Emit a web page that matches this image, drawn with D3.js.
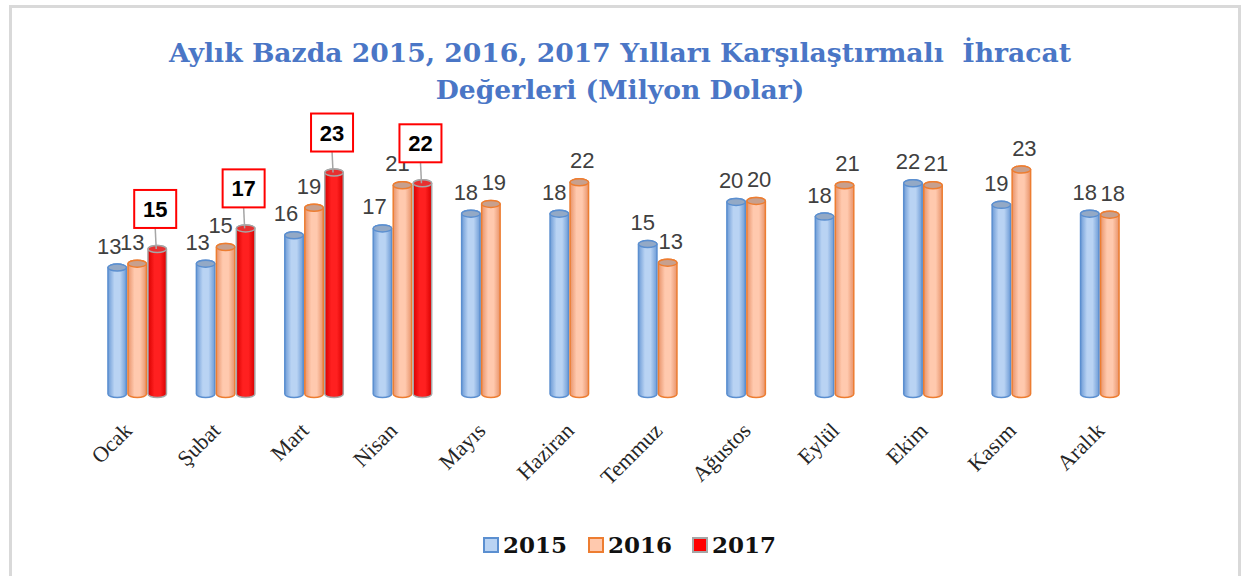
<!DOCTYPE html>
<html>
<head>
<meta charset="utf-8">
<script src="https://cdn.jsdelivr.net/npm/d3@7"></script>
<style>
	body { margin: 0; background: #fff; }
</style>
</head>
<body>
<svg id="chart" width="1246" height="576"></svg>
<script>
const titleLines = ['Aylık Bazda 2015, 2016, 2017 Yılları Karşılaştırmalı  İhracat', 'Değerleri (Milyon Dolar)'];
const months = ['Ocak', 'Şubat', 'Mart', 'Nisan', 'Mayıs', 'Haziran', 'Temmuz', 'Ağustos', 'Eylül', 'Ekim', 'Kasım', 'Aralık'];
const years = ['2015', '2016', '2017'];
const values2015 = [12.9, 13.3, 16.2, 16.9, 18.4, 18.4, 15.3, 19.6, 18.1, 21.5, 19.3, 18.4];
const values2016 = [13.3, 15.0, 19.0, 21.3, 19.4, 21.6, 13.4, 19.7, 21.3, 21.3, 22.9, 18.3];
const values2017 = [14.8, 16.9, 22.6, 21.5, null, null, null, null, null, null, null, null];

class CylinderChart {
	svg = d3.select('#chart');
	styles = {
		'2015': { light: '#b9d3f3', dark: '#6d9bd6', stroke: '#5b8fd0', cap: '#93a9c6' },
		'2016': { light: '#ffc9ae', dark: '#e8936a', stroke: '#ed7d31', cap: '#c7a08e' },
		'2017': { light: '#ff2020', dark: '#d80000', stroke: '#a6a6a6', cap: '#e83030' }
	};

	cylinderPath = (x, w, yTop, yBase, ry) => {
		const rx = w / 2;
		return `M${x},${yTop} V${yBase} A${rx},${ry} 0 0 0 ${x + w},${yBase} V${yTop} A${rx},${ry} 0 0 0 ${x},${yTop} Z`;
	};

	draw = () => {
		const svg = this.svg;
		const series = { '2015': values2015, '2016': values2016, '2017': values2017 };

		const data = [];
		months.forEach((m, i) => {
			years.forEach((yr) => {
				const v = series[yr][i];
				if (v != null) data.push({ month: m, year: yr, value: v, full: values2017[i] != null });
			});
		});

		// frame
		svg.append('rect')
			.attr('x', 10.5).attr('y', 6.5)
			.attr('width', 1229).attr('height', 600)
			.attr('fill', '#fff')
			.attr('stroke', '#d9d9d9')
			.attr('stroke-width', 3);

		// gradients
		const defs = svg.append('defs');
		years.forEach((yr) => {
			const st = this.styles[yr];
			const g = defs.append('linearGradient').attr('id', 'grad' + yr).attr('x1', 0).attr('x2', 1).attr('y1', 0).attr('y2', 0);
			g.append('stop').attr('offset', '0%').attr('stop-color', st.dark);
			g.append('stop').attr('offset', '35%').attr('stop-color', st.light);
			g.append('stop').attr('offset', '65%').attr('stop-color', st.light);
			g.append('stop').attr('offset', '100%').attr('stop-color', st.dark);
		});

		// title
		svg.append('g')
			.selectAll('text')
			.data(titleLines)
			.enter()
			.append('text')
			.attr('x', 620)
			.attr('y', (d, i) => 62 + i * 37)
			.attr('text-anchor', 'middle')
			.style('white-space', 'pre')
			.style('font-family', 'DejaVu Serif')
			.style('font-weight', 'bold')
			.style('font-size', '26.6px')
			.attr('fill', '#4a76c6')
			.text((d) => d);

		const x0 = d3.scaleBand().domain(months).range([93, 1154]);
		const bw = x0.bandwidth();
		const x1 = d3.scaleBand().domain(years).range([(bw - 60) / 2, (bw + 60) / 2]);
		const y = d3.scaleLinear().domain([0, 25]).range([394, 149]);
		const ry = 3.5;

		// x axis
		const axis = svg.append('g')
			.attr('transform', 'translate(0,394)')
			.call(d3.axisBottom(x0).tickSize(0));
		axis.select('.domain').remove();
		axis.selectAll('text')
			.attr('y', null)
			.attr('dy', null)
			.attr('transform', 'translate(-4,38) rotate(-45)')
			.style('text-anchor', 'end')
			.style('font-family', 'Liberation Serif')
			.style('font-size', '22px')
			.attr('fill', '#262626');

		const bars = svg.append('g')
			.selectAll('g')
			.data(data)
			.enter()
			.append('g');

		bars.append('path')
			.attr('d', (d) => this.cylinderPath(x0(d.month) + x1(d.year) + 0.75, x1.bandwidth() - 1.5, y(d.value), y(0), ry))
			.attr('fill', (d) => 'url(#grad' + d.year + ')')
			.attr('stroke', (d) => this.styles[d.year].stroke)
			.attr('stroke-width', 1.5);

		bars.append('ellipse')
			.attr('cx', (d) => x0(d.month) + x1(d.year) + x1.bandwidth() / 2)
			.attr('cy', (d) => y(d.value))
			.attr('rx', x1.bandwidth() / 2 - 0.75)
			.attr('ry', ry)
			.attr('fill', (d) => this.styles[d.year].cap)
			.attr('stroke', (d) => this.styles[d.year].stroke)
			.attr('stroke-width', 1.5);

		// plain value labels, nudged left when a third bar sits beside them
		const labelShift = (d) => {
			if (d.year === '2015') return d.full ? -8 : -5;
			return d.full ? -5 : 3;
		};

		bars.filter((d) => d.year !== '2017')
			.append('text')
			.attr('x', (d) => x0(d.month) + x1(d.year) + x1.bandwidth() / 2 + labelShift(d))
			.attr('y', (d) => y(d.value) - 14)
			.attr('text-anchor', 'middle')
			.style('font-family', 'Liberation Sans')
			.style('font-size', '22px')
			.attr('fill', '#404040')
			.text((d) => Math.round(d.value));

		// boxed 2017 labels
		const boxed = bars.filter((d) => d.year === '2017');
		const boxW = 42;
		const boxH = 38;
		const boxCx = (d) => x0(d.month) + x1(d.year) + x1.bandwidth() / 2 - 2;
		const boxCy = (d) => y(d.value) - 40;

		boxed.append('line')
			.attr('x1', boxCx)
			.attr('y1', (d) => boxCy(d) + boxH / 2)
			.attr('x2', (d) => boxCx(d) + 1)
			.attr('y2', (d) => y(d.value))
			.attr('stroke', '#a6a6a6')
			.attr('stroke-width', 1.5);

		boxed.append('rect')
			.attr('x', (d) => boxCx(d) - boxW / 2)
			.attr('y', (d) => boxCy(d) - boxH / 2)
			.attr('width', boxW)
			.attr('height', boxH)
			.attr('fill', '#fff')
			.attr('stroke', '#ff0000')
			.attr('stroke-width', 2);

		boxed.append('text')
			.attr('x', boxCx)
			.attr('y', (d) => boxCy(d) + 8)
			.attr('text-anchor', 'middle')
			.style('font-family', 'Liberation Sans')
			.style('font-weight', 'bold')
			.style('font-size', '22px')
			.attr('fill', '#000')
			.text((d) => Math.round(d.value));

		// legend
		const legendX = d3.scaleOrdinal().domain(years).range([484, 589, 693]);
		const legend = svg.append('g')
			.selectAll('g')
			.data(years)
			.enter()
			.append('g')
			.attr('transform', (d) => `translate(${legendX(d)},538)`);

		legend.append('rect')
			.attr('width', 14)
			.attr('height', 14)
			.attr('fill', (d) => (d === '2017' ? '#ff0000' : this.styles[d].light))
			.attr('stroke', (d) => this.styles[d].stroke)
			.attr('stroke-width', 2);

		legend.append('text')
			.attr('x', 19)
			.attr('y', 15)
			.style('font-family', 'DejaVu Serif')
			.style('font-weight', 'bold')
			.style('font-size', '23px')
			.attr('fill', '#111')
			.text((d) => d);
	};
}

new CylinderChart().draw();
</script>
</body>
</html>
